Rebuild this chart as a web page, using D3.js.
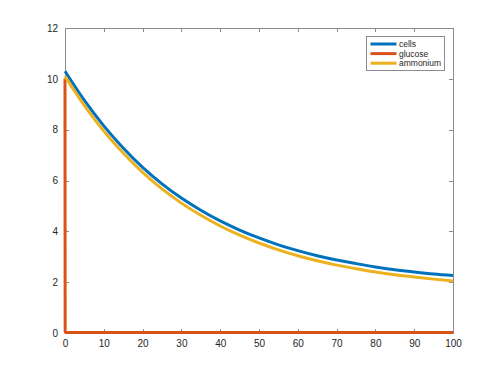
<!DOCTYPE html>
<html>
<head>
<meta charset="utf-8">
<script src="https://cdn.jsdelivr.net/npm/d3@7"></script>
<style>
  body { margin: 0; background: #fff; }
  svg { display: block; font-family: "Liberation Sans", Arial, Helvetica, sans-serif; }
</style>
</head>
<body>
<svg id="chart" width="500" height="375"></svg>
<script>
// time points (x) and values
const time = [0, 5, 10, 15, 20, 25, 30, 35, 40, 45, 50, 55, 60, 65, 70, 75, 80, 85, 90, 95, 100]
const cells = [10.3, 9.15, 8.15, 7.28, 6.52, 5.87, 5.31, 4.83, 4.41, 4.05, 3.74, 3.47, 3.24, 3.04, 2.87, 2.73, 2.6, 2.49, 2.4, 2.32, 2.26]
const ammonium = [10.1, 8.95, 7.95, 7.08, 6.32, 5.67, 5.11, 4.63, 4.21, 3.85, 3.54, 3.27, 3.04, 2.84, 2.67, 2.53, 2.4, 2.29, 2.2, 2.12, 2.05]
const glucoseTime = [0, 0.05, 100]
const glucose = [10, 0.02, 0.02]

const xTicks = [0, 10, 20, 30, 40, 50, 60, 70, 80, 90, 100]
const yTicks = [0, 2, 4, 6, 8, 10, 12]
const seriesNames = ['cells', 'glucose', 'ammonium']
const seriesColors = ['#0072BD', '#D95319', '#EDB120']

const margin = { top: 28, right: 47, bottom: 42, left: 65 }
const width = 500 - margin.left - margin.right
const height = 375 - margin.top - margin.bottom

const svg = d3.select('#chart')
const g = svg.append('g').attr('transform', `translate(${margin.left},${margin.top})`)

const x = d3.scaleLinear().domain([0, 100]).range([0, width])
const y = d3.scaleLinear().domain([0, 12]).range([height, 0])

const axisColor = '#8c8c8c'
const tickLen = 4

// box
g.append('rect')
  .attr('x', 0).attr('y', 0)
  .attr('width', width).attr('height', height)
  .attr('fill', 'none').attr('stroke', axisColor).attr('stroke-width', 1)
  .attr('shape-rendering', 'crispEdges')

// tick marks on all four sides, pointing in
const styleAxis = (sel) => {
  sel.select('.domain').remove()
  sel.selectAll('.tick line').attr('stroke', axisColor).attr('shape-rendering', 'crispEdges')
  sel.selectAll('.tick text').attr('fill', '#262626').attr('font-size', '10px')
}

g.append('g').attr('transform', `translate(0,${height})`)
  .call(d3.axisBottom(x).tickValues(xTicks).tickSize(-tickLen).tickPadding(7))
  .call(styleAxis)
g.append('g')
  .call(d3.axisTop(x).tickValues(xTicks).tickSize(-tickLen).tickFormat(''))
  .call(styleAxis)
g.append('g')
  .call(d3.axisLeft(y).tickValues(yTicks).tickSize(-tickLen).tickPadding(7))
  .call(styleAxis)
g.append('g').attr('transform', `translate(${width},0)`)
  .call(d3.axisRight(y).tickValues(yTicks).tickSize(-tickLen).tickFormat(''))
  .call(styleAxis)

const line = d3.line()
  .x((d) => x(d[0]))
  .y((d) => y(d[1]))
  .curve(d3.curveMonotoneX)

const series = [
  d3.zip(time, cells),
  d3.zip(glucoseTime, glucose),
  d3.zip(time, ammonium)
]

series.forEach((pts, i) => {
  g.append('path')
    .datum(pts)
    .attr('d', line)
    .attr('fill', 'none')
    .attr('stroke', seriesColors[i])
    .attr('stroke-width', 3)
    .attr('stroke-linejoin', 'round')
})

// legend
const legend = g.append('g').attr('transform', `translate(${366.5 - margin.left},${36.5 - margin.top})`)
legend.append('rect')
  .attr('width', 78).attr('height', 34)
  .attr('fill', '#fff').attr('stroke', axisColor).attr('stroke-width', 1)
  .attr('shape-rendering', 'crispEdges')

seriesNames.forEach((name, i) => {
  const row = legend.append('g').attr('transform', `translate(0,${7.5 + i * 9.6})`)
  row.append('line')
    .attr('x1', 4).attr('x2', 30)
    .attr('stroke', seriesColors[i]).attr('stroke-width', 3)
  row.append('text')
    .attr('x', 32.5).attr('dy', '0.35em')
    .attr('font-size', '8.5px').attr('fill', '#262626')
    .text(name)
})
</script>
</body>
</html>
